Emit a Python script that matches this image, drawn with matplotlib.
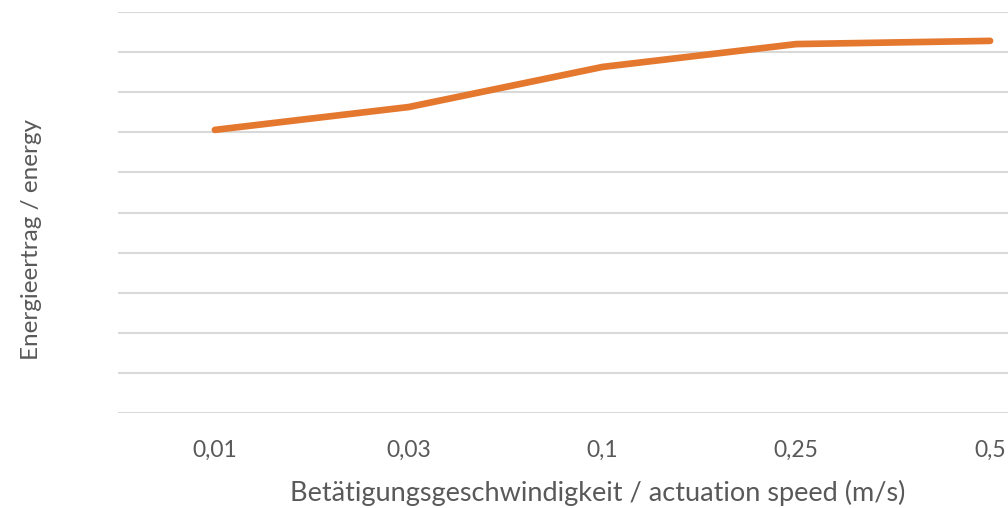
import matplotlib
matplotlib.use('Agg')
import matplotlib.pyplot as plt

speeds = ['0,01', '0,03', '0,1', '0,25', '0,5']
energy = [7.06, 7.63, 8.63, 9.20, 9.28]

plt.rcParams['font.family'] = ['Lato', 'DejaVu Sans']
grey = '#595959'

fig = plt.figure(figsize=(10.08, 5.08), dpi=100)
ax = fig.add_axes([118/1008, 95/508, 969/1008, 401/508])

x = list(range(len(speeds)))
ax.plot(x, energy, color='#E5782F', linewidth=4.8, solid_capstyle='round', zorder=3)

ax.set_xlim(-0.5, 4.5)
ax.set_ylim(0, 10)
ax.set_yticks(range(11))
ax.set_yticklabels([])
ax.tick_params(axis='y', length=0)
ax.set_xticks(x)
ax.set_xticklabels(speeds, color=grey, fontsize=16.5)
ax.tick_params(axis='x', length=0, pad=19)
ax.grid(axis='y', color='#D9D9D9', linewidth=1.5)
for s in ax.spines.values():
    s.set_visible(False)

fig.text(290/1008, 1 - 493/508, 'Betätigungsgeschwindigkeit / actuation speed (m/s)',
         color=grey, fontsize=19.5, va='center', ha='left')
fig.text(32/1008, 1 - 240/508, 'Energieertrag / energy', color=grey, fontsize=17.5,
         rotation=90, va='center', ha='center')

fig.savefig('out.png', dpi=100)
